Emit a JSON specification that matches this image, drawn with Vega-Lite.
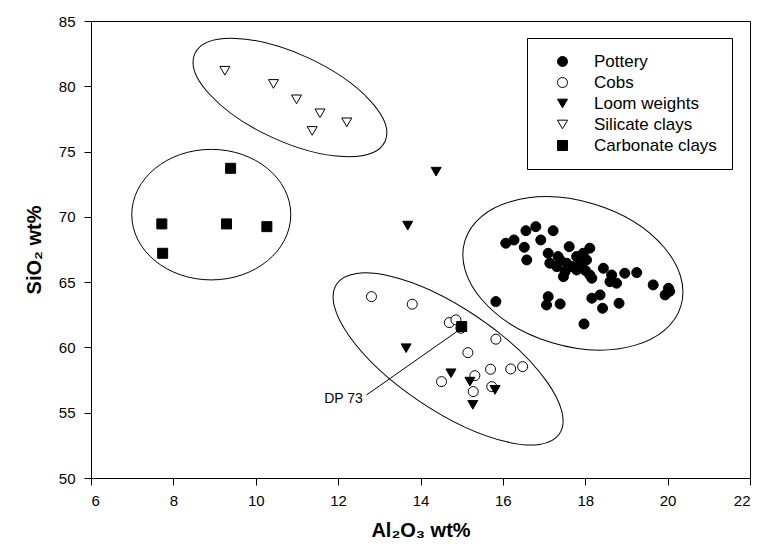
{
  "$schema": "https://vega.github.io/schema/vega-lite/v6.json",
  "width": 659,
  "height": 457,
  "autosize": {"type": "none"},
  "padding": {"left": 91, "top": 21, "right": 10, "bottom": 70},
  "background": "white",
  "config": {
    "view": {"stroke": "black", "strokeWidth": 1},
    "font": "Liberation Sans",
    "axis": {
      "grid": false,
      "domainColor": "black",
      "tickColor": "black",
      "tickSize": 7,
      "labelFont": "Liberation Sans",
      "labelFontSize": 15,
      "labelColor": "black",
      "titleFont": "Liberation Sans",
      "titleFontSize": 20,
      "titleFontWeight": "bold",
      "titleColor": "black"
    },
    "legend": {
      "title": null, "orient": "none", "legendX": 436, "legendY": 17, "strokeColor": "black", "fillColor": "white", "padding": 15,
      "labelFont": "Liberation Sans", "labelFontSize": 17, "labelColor": "black", "symbolSize": 100, "symbolStrokeWidth": 1,
      "rowPadding": 3, "labelOffset": 23, "symbolOffset": 12
    }
  },
  "layer": [
    {
      "data": {"values": [{"cx": 10.83, "cy": 79.14}]},
      "mark": {"type": "point", "shape": "M -1 0 C -1 -0.2303 -0.5523 -0.417 0 -0.417 C 0.5523 -0.417 1 -0.2303 1 0 C 1 0.2303 0.5523 0.417 0 0.417 C -0.5523 0.417 -1 0.2303 -1 0 Z", "size": 43850, "angle": 24.8, "filled": false, "stroke": "black", "strokeWidth": 1, "opacity": 1},
      "encoding": {"x": {"field": "cx", "type": "quantitative"}, "y": {"field": "cy", "type": "quantitative"}}
    },
    {
      "data": {"values": [{"cx": 8.92, "cy": 70.17}]},
      "mark": {"type": "point", "shape": "M -1 0 C -1 -0.4534 -0.5523 -0.821 0 -0.821 C 0.5523 -0.821 1 -0.4534 1 0 C 1 0.4534 0.5523 0.821 0 0.821 C -0.5523 0.821 -1 0.4534 -1 0 Z", "size": 25281, "angle": 0, "filled": false, "stroke": "black", "strokeWidth": 1, "opacity": 1},
      "encoding": {"x": {"field": "cx", "type": "quantitative"}, "y": {"field": "cy", "type": "quantitative"}}
    },
    {
      "data": {"values": [{"cx": 17.70, "cy": 65.67}]},
      "mark": {"type": "point", "shape": "M -1 0 C -1 -0.3546 -0.5523 -0.642 0 -0.642 C 0.5523 -0.642 1 -0.3546 1 0 C 1 0.3546 0.5523 0.642 0 0.642 C -0.5523 0.642 -1 0.3546 -1 0 Z", "size": 50896, "angle": 16.7, "filled": false, "stroke": "black", "strokeWidth": 1, "opacity": 1},
      "encoding": {"x": {"field": "cx", "type": "quantitative"}, "y": {"field": "cy", "type": "quantitative"}}
    },
    {
      "data": {"values": [{"cx": 14.67, "cy": 59.12}]},
      "mark": {"type": "point", "shape": "M -1 0 C -1 -0.2104 -0.5523 -0.381 0 -0.381 C 0.5523 -0.381 1 -0.2104 1 0 C 1 0.2104 0.5523 0.381 0 0.381 C -0.5523 0.381 -1 0.2104 -1 0 Z", "size": 72040, "angle": 33.9, "filled": false, "stroke": "black", "strokeWidth": 1, "opacity": 1},
      "encoding": {"x": {"field": "cx", "type": "quantitative"}, "y": {"field": "cy", "type": "quantitative"}}
    },
    {
      "data": {"values": [{"x1": 12.69, "y1": 56.36, "x2": 14.94, "y2": 61.34}]},
      "mark": {"type": "rule", "color": "black", "strokeWidth": 1},
      "encoding": {
        "x": {"field": "x1", "type": "quantitative"},
        "y": {"field": "y1", "type": "quantitative"},
        "x2": {"field": "x2"},
        "y2": {"field": "y2"}
      }
    },
    {
      "data": {"values": [{"x": 12.6, "y": 56.03, "label": "DP 73"}]},
      "mark": {"type": "text", "align": "right", "baseline": "middle", "font": "Liberation Sans", "fontSize": 14, "color": "black"},
      "encoding": {
        "x": {"field": "x", "type": "quantitative"},
        "y": {"field": "y", "type": "quantitative"},
        "text": {"field": "label"}
      }
    },
    {
      "data": {"values": [
        {"group": "Pottery", "al": 16.07, "si": 67.98},
        {"group": "Pottery", "al": 16.27, "si": 68.23},
        {"group": "Pottery", "al": 16.56, "si": 68.94},
        {"group": "Pottery", "al": 16.80, "si": 69.25},
        {"group": "Pottery", "al": 17.22, "si": 68.94},
        {"group": "Pottery", "al": 16.92, "si": 68.23},
        {"group": "Pottery", "al": 16.52, "si": 67.67},
        {"group": "Pottery", "al": 16.58, "si": 66.70},
        {"group": "Pottery", "al": 17.10, "si": 67.21},
        {"group": "Pottery", "al": 17.14, "si": 66.45},
        {"group": "Pottery", "al": 17.61, "si": 67.72},
        {"group": "Pottery", "al": 18.11, "si": 67.60},
        {"group": "Pottery", "al": 17.95, "si": 67.21},
        {"group": "Pottery", "al": 17.55, "si": 66.45},
        {"group": "Pottery", "al": 17.39, "si": 66.70},
        {"group": "Pottery", "al": 17.71, "si": 66.19},
        {"group": "Pottery", "al": 17.87, "si": 66.45},
        {"group": "Pottery", "al": 18.03, "si": 66.70},
        {"group": "Pottery", "al": 17.47, "si": 65.42},
        {"group": "Pottery", "al": 17.31, "si": 66.19},
        {"group": "Pottery", "al": 17.79, "si": 65.93},
        {"group": "Pottery", "al": 18.11, "si": 65.55},
        {"group": "Pottery", "al": 18.16, "si": 65.30},
        {"group": "Pottery", "al": 18.44, "si": 66.06},
        {"group": "Pottery", "al": 18.64, "si": 65.55},
        {"group": "Pottery", "al": 18.96, "si": 65.68},
        {"group": "Pottery", "al": 19.25, "si": 65.73},
        {"group": "Pottery", "al": 18.60, "si": 65.04},
        {"group": "Pottery", "al": 18.76, "si": 64.92},
        {"group": "Pottery", "al": 19.65, "si": 64.79},
        {"group": "Pottery", "al": 20.02, "si": 64.53},
        {"group": "Pottery", "al": 19.94, "si": 64.02},
        {"group": "Pottery", "al": 20.05, "si": 64.30},
        {"group": "Pottery", "al": 15.83, "si": 63.51},
        {"group": "Pottery", "al": 17.10, "si": 63.89},
        {"group": "Pottery", "al": 17.06, "si": 63.25},
        {"group": "Pottery", "al": 17.39, "si": 63.33},
        {"group": "Pottery", "al": 18.16, "si": 63.77},
        {"group": "Pottery", "al": 18.36, "si": 64.02},
        {"group": "Pottery", "al": 18.42, "si": 63.00},
        {"group": "Pottery", "al": 18.82, "si": 63.38},
        {"group": "Pottery", "al": 17.97, "si": 61.80},
        {"group": "Pottery", "al": 17.34, "si": 66.96},
        {"group": "Pottery", "al": 17.79, "si": 66.96},
        {"group": "Pottery", "al": 17.51, "si": 65.80},
        {"group": "Pottery", "al": 17.63, "si": 66.20},
        {"group": "Pottery", "al": 18.00, "si": 65.90},
        {"group": "Cobs", "al": 12.81, "si": 63.89},
        {"group": "Cobs", "al": 13.80, "si": 63.31},
        {"group": "Cobs", "al": 14.70, "si": 61.90},
        {"group": "Cobs", "al": 14.86, "si": 62.11},
        {"group": "Cobs", "al": 14.98, "si": 61.47},
        {"group": "Cobs", "al": 15.83, "si": 60.63},
        {"group": "Cobs", "al": 15.15, "si": 59.60},
        {"group": "Cobs", "al": 14.51, "si": 57.38},
        {"group": "Cobs", "al": 15.32, "si": 57.84},
        {"group": "Cobs", "al": 15.70, "si": 58.33},
        {"group": "Cobs", "al": 16.19, "si": 58.35},
        {"group": "Cobs", "al": 16.48, "si": 58.53},
        {"group": "Cobs", "al": 15.28, "si": 56.62},
        {"group": "Cobs", "al": 15.73, "si": 57.00},
        {"group": "Loom weights", "al": 14.38, "si": 73.46},
        {"group": "Loom weights", "al": 13.69, "si": 69.33},
        {"group": "Loom weights", "al": 13.65, "si": 59.94},
        {"group": "Loom weights", "al": 14.74, "si": 58.02},
        {"group": "Loom weights", "al": 15.20, "si": 57.38},
        {"group": "Loom weights", "al": 15.81, "si": 56.75},
        {"group": "Loom weights", "al": 15.27, "si": 55.60},
        {"group": "Silicate clays", "al": 9.25, "si": 81.19},
        {"group": "Silicate clays", "al": 10.43, "si": 80.18},
        {"group": "Silicate clays", "al": 10.99, "si": 79.00},
        {"group": "Silicate clays", "al": 11.56, "si": 77.93},
        {"group": "Silicate clays", "al": 12.21, "si": 77.24},
        {"group": "Silicate clays", "al": 11.37, "si": 76.58},
        {"group": "Carbonate clays", "al": 9.39, "si": 73.72},
        {"group": "Carbonate clays", "al": 7.72, "si": 69.46},
        {"group": "Carbonate clays", "al": 9.29, "si": 69.46},
        {"group": "Carbonate clays", "al": 10.27, "si": 69.25},
        {"group": "Carbonate clays", "al": 7.74, "si": 67.21},
        {"group": "Carbonate clays", "al": 15.00, "si": 61.60}
      ]},
      "mark": {"type": "point", "filled": true, "strokeWidth": 1, "opacity": 1, "size": 100},
      "encoding": {
        "x": {
          "field": "al", "type": "quantitative",
          "scale": {"domain": [6, 22], "nice": false, "zero": false},
          "axis": {"title": "Al₂O₃ wt%", "values": [6, 8, 10, 12, 14, 16, 18, 20, 22], "labelPadding": 8, "titlePadding": 12}
        },
        "y": {
          "field": "si", "type": "quantitative",
          "scale": {"domain": [50, 85], "nice": false, "zero": false},
          "axis": {"title": "SiO₂ wt%", "values": [50, 55, 60, 65, 70, 75, 80, 85], "labelPadding": 9, "titlePadding": 14}
        },
        "shape": {
          "field": "group", "type": "nominal",
          "scale": {"domain": ["Pottery", "Cobs", "Loom weights", "Silicate clays", "Carbonate clays"], "range": ["circle", "circle", "triangle-down", "triangle-down", "square"]},
          "legend": {"title": null}
        },
        "fill": {
          "field": "group", "type": "nominal",
          "scale": {"domain": ["Pottery", "Cobs", "Loom weights", "Silicate clays", "Carbonate clays"], "range": ["black", "white", "black", "white", "black"]},
          "legend": {"title": null}
        },
        "stroke": {
          "field": "group", "type": "nominal",
          "scale": {"domain": ["Pottery", "Cobs", "Loom weights", "Silicate clays", "Carbonate clays"], "range": ["black", "black", "black", "black", "black"]},
          "legend": {"title": null}
        }
      }
    }
  ]
}
